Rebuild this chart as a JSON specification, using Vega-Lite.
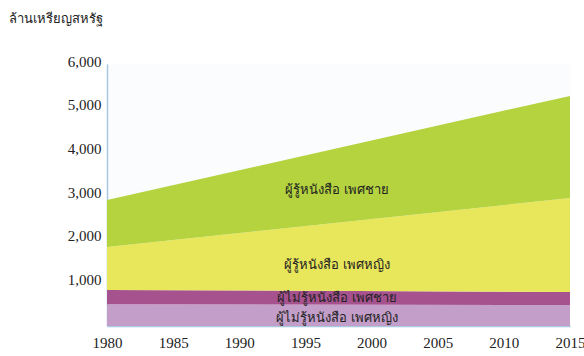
{
  "$schema": "https://vega.github.io/schema/vega-lite/v6.json",
  "autosize": {"type": "none"},
  "padding": {"left": 107, "top": 64, "right": 14, "bottom": 30},
  "width": 463,
  "height": 262,
  "background": "#ffffff",
  "config": {
    "view": {"stroke": null, "fill": "#fbfcfe"},
    "axis": {"grid": false, "ticks": false, "domainColor": "#a9c8e2", "domainWidth": 1.5, "labelColor": "#222222", "labelFont": "Liberation Serif", "labelFontSize": 15}
  },
  "datasets": {
    "series": [
      {"group": "ผู้ไม่รู้หนังสือ เพศหญิง", "o": 1, "year": 1980, "value": 500},
      {"group": "ผู้ไม่รู้หนังสือ เพศหญิง", "o": 1, "year": 2015, "value": 480},
      {"group": "ผู้ไม่รู้หนังสือ เพศชาย", "o": 2, "year": 1980, "value": 325},
      {"group": "ผู้ไม่รู้หนังสือ เพศชาย", "o": 2, "year": 2015, "value": 300},
      {"group": "ผู้รู้หนังสือ เพศหญิง", "o": 3, "year": 1980, "value": 985},
      {"group": "ผู้รู้หนังสือ เพศหญิง", "o": 3, "year": 2015, "value": 2150},
      {"group": "ผู้รู้หนังสือ เพศชาย", "o": 4, "year": 1980, "value": 1075},
      {"group": "ผู้รู้หนังสือ เพศชาย", "o": 4, "year": 2015, "value": 2340}
    ],
    "labels": [
      {"label": "ผู้รู้หนังสือ เพศชาย", "year": 1997.4, "value": 3115},
      {"label": "ผู้รู้หนังสือ เพศหญิง", "year": 1997.4, "value": 1397},
      {"label": "ผู้ไม่รู้หนังสือ เพศชาย", "year": 1997.4, "value": 641},
      {"label": "ผู้ไม่รู้หนังสือ เพศหญิง", "year": 1997.4, "value": 183}
    ]
  },
  "layer": [
    {
      "data": {"name": "series"},
      "mark": {"type": "area", "opacity": 1},
      "encoding": {
        "x": {"field": "year", "type": "quantitative", "scale": {"domain": [1980, 2015], "nice": false},
          "axis": {"values": [1980, 1985, 1990, 1995, 2000, 2005, 2010, 2015], "format": "d", "title": null, "labelPadding": 9, "labelFlush": false}},
        "y": {"field": "value", "type": "quantitative", "stack": "zero", "scale": {"domain": [0, 6000], "nice": false},
          "axis": {"values": [1000, 2000, 3000, 4000, 5000, 6000], "format": ",d", "labelPadding": 6, "labelOffset": -3,
            "title": "ล้านเหรียญสหรัฐ", "titleAngle": 0, "titleX": -99, "titleY": -46, "titleAlign": "left", "titleBaseline": "middle",
            "titleFontSize": 13, "titleFontWeight": "normal", "titleColor": "#222222"}},
        "color": {"field": "group", "type": "nominal", "legend": null,
          "scale": {"domain": ["ผู้ไม่รู้หนังสือ เพศหญิง", "ผู้ไม่รู้หนังสือ เพศชาย", "ผู้รู้หนังสือ เพศหญิง", "ผู้รู้หนังสือ เพศชาย"],
            "range": ["#c39ec8", "#a6528f", "#e8e65a", "#b4d33f"]}},
        "order": {"field": "o", "type": "quantitative"}
      }
    },
    {
      "data": {"name": "labels"},
      "mark": {"type": "text", "align": "center", "baseline": "middle", "fontSize": 13, "color": "#222222"},
      "encoding": {
        "x": {"field": "year", "type": "quantitative"},
        "y": {"field": "value", "type": "quantitative"},
        "text": {"field": "label"}
      }
    }
  ]
}
